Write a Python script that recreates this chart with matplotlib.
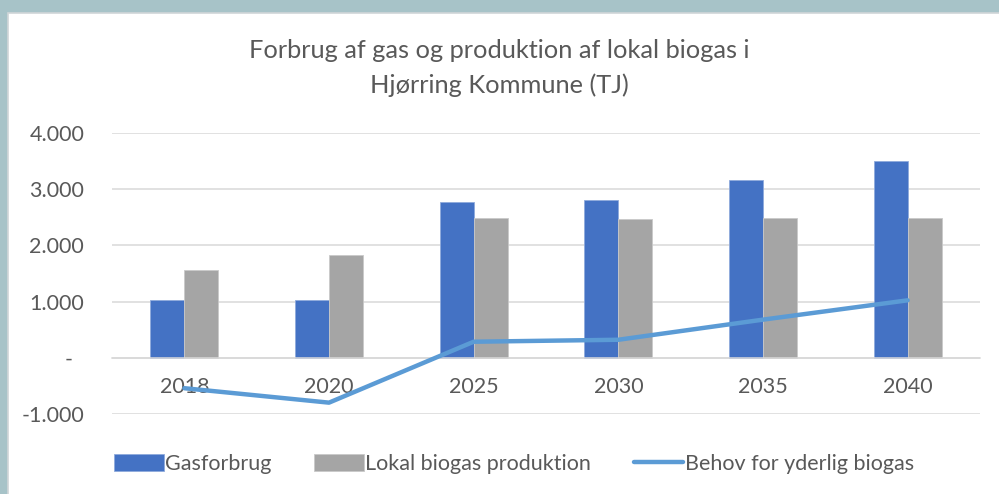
import numpy as np
import matplotlib.pyplot as plt
from matplotlib.patches import Rectangle
from matplotlib.ticker import FixedLocator, FixedFormatter

plt.rcParams['font.family'] = ['Lato', 'DejaVu Sans']

# Data (TJ)
years = ['2018', '2020', '2025', '2030', '2035', '2040']
gasforbrug = [1020, 1020, 2770, 2810, 3160, 3505]
lokal_biogas = [1566, 1827, 2480, 2477, 2480, 2480]
behov = [-541, -798, 286, 321, 679, 1023]

text_col = '#595959'
grid_col = '#D9D9D9'

fig = plt.figure(figsize=(9.99, 4.94), dpi=100)
fig.patch.set_facecolor('#A7C3C8')
# white chart panel with thin light border
fig.patches.append(Rectangle((8 / 999, -0.01), 1.0, 1.01 - 13 / 494, transform=fig.transFigure,
                             facecolor='white', edgecolor='#D0D6D8', linewidth=1.2, zorder=-1))

ax = fig.add_axes([112 / 999, 1 - 414 / 494, 868 / 999, 281 / 494])
ax.set_zorder(1)
ax.set_facecolor('none')

x = np.arange(len(years))
w = 0.235
b1 = ax.bar(x - w / 2, gasforbrug, w, color='#4472C4', edgecolor='#8FAADC', linewidth=0.6,
            label='Gasforbrug', zorder=2)
b2 = ax.bar(x + w / 2, lokal_biogas, w, color='#A5A5A5', edgecolor='#C9C9C9', linewidth=0.6,
            label='Lokal biogas produktion', zorder=2)
l1, = ax.plot(x, behov, color='#5B9BD5', linewidth=3.2, solid_capstyle='round',
              label='Behov for yderlig biogas', zorder=3)

ax.set_xlim(-0.5, len(years) - 0.5)
ax.set_ylim(-1000, 4000)

yt = [-1000, 0, 1000, 2000, 3000, 4000]
ax.yaxis.set_major_locator(FixedLocator(yt))
ax.yaxis.set_major_formatter(FixedFormatter(['-1.000', '-  ', '1.000', '2.000', '3.000', '4.000']))
ax.grid(axis='y', color=grid_col, linewidth=1.1, zorder=0)
ax.set_axisbelow(True)

ax.set_xticks(x)
ax.set_xticklabels(years)
for s in ['top', 'right', 'left']:
    ax.spines[s].set_visible(False)
ax.spines['bottom'].set_position(('data', 0))
ax.spines['bottom'].set_color(grid_col)
ax.spines['bottom'].set_linewidth(1.1)
ax.tick_params(axis='x', length=0, pad=14, labelsize=15.5, labelcolor=text_col)
ax.tick_params(axis='y', length=0, pad=20, labelsize=15.5, labelcolor=text_col)

fig.text(0.5, 1 - 50 / 494, 'Forbrug af gas og produktion af lokal biogas i',
         ha='center', va='center', fontsize=18.3, color=text_col)
fig.text(0.5, 1 - 85 / 494, 'Hjørring Kommune (TJ)',
         ha='center', va='center', fontsize=18.3, color=text_col)

leg = fig.legend([b1, b2, l1], ['Gasforbrug', 'Lokal biogas produktion', 'Behov for yderlig biogas'],
                 loc='center', bbox_to_anchor=(514 / 999, 1 - 464 / 494), ncol=3,
                 frameon=False, fontsize=15.5, handlelength=2.3, handleheight=0.85,
                 handletextpad=0.05, columnspacing=2.0, labelcolor=text_col)

fig.savefig('out.png', dpi=100, facecolor=fig.get_facecolor())
